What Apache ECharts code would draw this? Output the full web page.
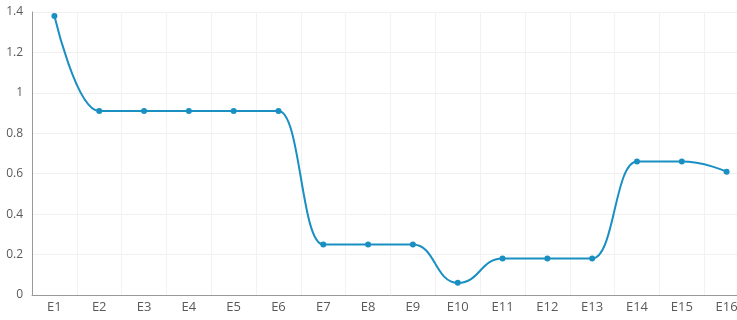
<!DOCTYPE html>
<html>
<head>
<meta charset="utf-8">
<script src="https://cdn.jsdelivr.net/npm/echarts@6/dist/echarts.min.js"></script>
<style>
  html, body { margin: 0; padding: 0; background: #fff; overflow: hidden; }
  /* plot runs past the right edge, like the cropped original */
  #chart { width: 749px; height: 320px; }
</style>
</head>
<body>
<div id="chart"></div>
<script>
const categories = ['E1', 'E2', 'E3', 'E4', 'E5', 'E6', 'E7', 'E8', 'E9', 'E10', 'E11', 'E12', 'E13', 'E14', 'E15', 'E16']
const values = [1.38, 0.91, 0.91, 0.91, 0.91, 0.91, 0.25, 0.25, 0.25, 0.06, 0.18, 0.18, 0.18, 0.66, 0.66, 0.61]
const yTicks = { min: 0, max: 1.4, interval: 0.2 }

const chart = echarts.init(document.getElementById('chart'))

const option = {
  animation: false,
  grid: {
    left: 32,
    right: 0,
    top: 12,
    bottom: 25
  },
  xAxis: {
    type: 'category',
    data: categories,
    boundaryGap: true,
    axisLine: { lineStyle: { color: '#999' } },
    axisTick: { alignWithLabel: true, length: 3, lineStyle: { color: '#999' } },
    axisLabel: { color: '#5a5a5a', fontSize: 13, fontFamily: 'Open Sans', margin: 6 },
    splitLine: { show: true, lineStyle: { color: '#f2f2f2' } }
  },
  yAxis: {
    type: 'value',
    min: yTicks.min,
    max: yTicks.max,
    interval: yTicks.interval,
    axisLine: { show: true, lineStyle: { color: '#999' } },
    axisTick: { show: false },
    axisLabel: { color: '#5a5a5a', fontSize: 12, fontFamily: 'Open Sans', margin: 9 },
    splitLine: { show: true, lineStyle: { color: '#f0f0f0' } }
  },
  series: [
    {
      type: 'line',
      data: values,
      smooth: true,
      smoothMonotone: 'x',
      symbol: 'circle',
      symbolSize: 6,
      itemStyle: { color: '#1a8fc2' },
      lineStyle: { width: 2, color: '#1a8fc2' }
    }
  ]
}

chart.setOption(option)
</script>
</body>
</html>
